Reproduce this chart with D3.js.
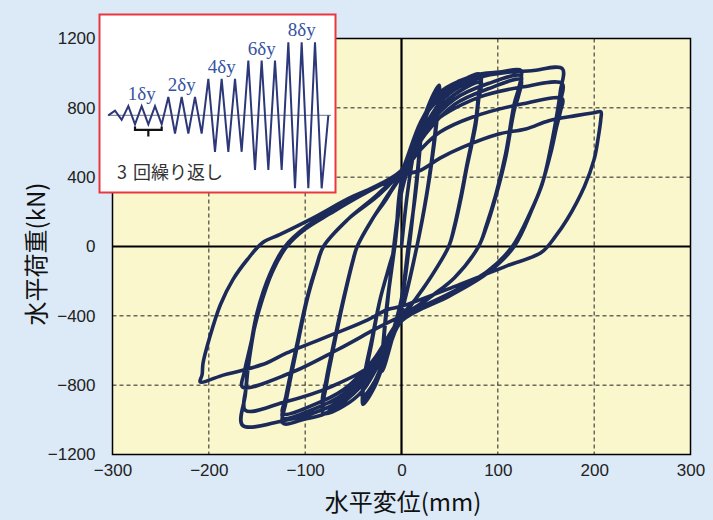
<!DOCTYPE html>
<html>
<head>
<meta charset="utf-8">
<script src="https://cdn.jsdelivr.net/npm/d3@7"></script>
<style>
  html, body { margin: 0; padding: 0; background: #dce9f6; }
  svg { display: block; }
</style>
</head>
<body>
<div id="wrapper"></div>
<script>
// axis ticks and grid
const xTicks = [-300, -200, -100, 0, 100, 200, 300]
const yTicks = [-1200, -800, -400, 0, 400, 800, 1200]
const xGrid = [-200, -100, 100, 200]
const yGrid = [-800, -400, 400, 800]

// hysteresis loops, [displacement mm, load kN]
const loop1dy = [
  [0, 0], [6, 300], [12, 520], [20, 720], [18, 520], [14, 300], [8, 0], [0, -320], [-10, -540], [-20, -720], [-18, -520], [-14, -300], [-8, 0], [0, 320],
  [10, 520], [20, 700], [18, 500], [14, 280], [7, 0], [0, -310], [-10, -520], [-20, -700], [-18, -500], [-14, -290], [-7, 0], [0, 310],
  [10, 510], [20, 690], [18, 490], [14, 280], [7, 0], [0, -300], [-10, -510], [-20, -690], [-18, -490], [-14, -280], [-7, 0], [0, 320],
]
const loop2dy = [
  [14, 560], [27, 800], [39, 930], [37, 770], [32, 530], [26, 300], [16, 0], [0, -380], [-14, -600], [-28, -810], [-40, -910], [-38, -760], [-31, -560], [-22, -300], [-12, -100], [-7, 0], [0, 370],
  [14, 540], [27, 780], [39, 905], [37, 750], [32, 520], [26, 290], [16, 0], [0, -370], [-14, -590], [-28, -790], [-40, -885], [-38, -740], [-31, -550], [-22, -300], [-12, -100], [-7, 0], [0, 370],
  [14, 530], [27, 770], [39, 885], [37, 740], [32, 510], [26, 290], [16, 0], [0, -370], [-14, -580], [-28, -780], [-40, -865], [-38, -730], [-31, -540], [-22, -300], [-12, -100], [-7, 0], [0, 380],
]
const loop4dy = [
  [20, 700], [40, 880], [60, 950], [82, 993], [80, 880], [77, 726], [68, 475], [62, 300], [55, 120], [49, 0], [30, -180], [15, -300], [0, -420], [-20, -640], [-40, -830], [-60, -920], [-81, -962], [-78, -800], [-71, -597], [-60, -307], [-50, -75], [-46, 0], [-30, 160], [-15, 290], [0, 420],
  [20, 650], [40, 830], [60, 920], [82, 965], [80, 860], [77, 710], [68, 465], [62, 290], [55, 115], [49, 0], [30, -180], [15, -300], [0, -410], [-20, -610], [-40, -790], [-60, -885], [-81, -930], [-78, -780], [-71, -585], [-60, -300], [-50, -70], [-46, 0], [-30, 160], [-15, 285], [0, 410],
  [20, 630], [40, 800], [60, 895], [82, 945], [80, 845], [77, 700], [68, 460], [62, 285], [55, 110], [49, 0], [30, -180], [15, -300], [0, -400], [-20, -590], [-40, -765], [-60, -860], [-81, -905], [-78, -765], [-71, -575], [-60, -295], [-50, -70], [-46, 0], [-30, 160], [-15, 280], [0, 430],
]
const loop6dy = [
  [20, 720], [40, 890], [60, 955], [82, 995], [104, 1008], [124, 1016], [122, 920], [117, 823], [108, 533], [98, 301], [88, 120], [80, 0], [55, -180], [28, -300], [0, -430], [-25, -680], [-50, -850], [-80, -965], [-100, -995], [-123, -1020], [-120, -900], [-109, -597], [-98, -307], [-88, -114], [-81, 0], [-55, 160], [-25, 300], [0, 440],
  [25, 680], [55, 850], [90, 940], [124, 985], [122, 900], [117, 800], [108, 520], [98, 295], [88, 115], [80, 0], [55, -180], [28, -300], [0, -420], [-30, -680], [-60, -850], [-92, -940], [-123, -990], [-120, -880], [-109, -585], [-98, -300], [-88, -110], [-81, 0], [-55, 160], [-25, 295], [0, 430],
  [25, 650], [55, 820], [90, 910], [124, 962], [122, 880], [117, 785], [108, 510], [98, 290], [88, 110], [80, 0], [55, -180], [28, -300], [0, -410], [-30, -660], [-60, -825], [-92, -915], [-123, -965], [-120, -865], [-109, -575], [-98, -295], [-88, -105], [-81, 0], [-55, 160], [-25, 290], [0, 440],
]
const loop8dy = [
  [25, 760], [50, 900], [80, 975], [110, 1005], [135, 1014], [167, 1026], [165, 900], [163, 820], [157, 630], [147, 380], [136, 220], [117, 0], [90, -150], [50, -285], [0, -430], [-30, -700], [-60, -880], [-92, -962], [-123, -1005], [-165, -1032], [-162, -850], [-159, -672], [-150, -383], [-136, -151], [-121, 0], [-100, 110], [-74, 200], [-40, 310], [0, 440],
  [30, 700], [80, 860], [125, 920], [167, 939], [165, 840], [162, 750], [156, 580], [146, 360], [135, 210], [116, 0], [90, -150], [50, -280], [0, -420], [-25, -655], [-74, -811], [-123, -900], [-162, -945], [-161, -800], [-158, -650], [-149, -375], [-135, -148], [-120, 0], [-100, 105], [-74, 195], [-40, 305], [0, 430],
  [20, 560], [40, 660], [74, 747], [126, 823], [167, 852], [165, 780], [161, 690], [155, 540], [145, 345], [134, 200], [115, 0], [90, -140], [50, -270], [0, -400], [-25, -470], [-67, -597], [-116, -731], [-165, -811], [-163, -720], [-158, -600], [-148, -370], [-134, -145], [-119, 0], [-100, 100], [-74, 190], [-40, 300], [0, 410],
]
const loop10dy = [
  [20, 440], [40, 510], [63, 572], [101, 649], [129, 678], [153, 726], [181, 755], [200, 772], [207, 777], [207, 740], [204, 620], [200, 504], [190, 348], [172, 157], [160, 60], [145, -35], [110, -110], [60, -220], [0, -345], [-15, -365], [-35, -423], [-68, -500], [-119, -614], [-140, -672], [-164, -713], [-185, -742], [-209, -781],
  [-207, -740], [-206, -672], [-199, -522], [-188, -336], [-175, -191], [-160, -75], [-144, 23], [-126, 70], [-90, 170], [-50, 290], [0, 400],
]

// loading protocol in the inset (amplitude per cycle, in δy)
const insetAmps = [0.5, 1, 1, 1, 2, 2, 2, 4, 4, 4, 6, 6, 6, 8, 8, 8]
const insetLabels = ['1δy', '2δy', '4δy', '6δy', '8δy']
const insetLabelAt = [2, 5, 8, 11, 14]

const width = 713
const height = 520
const plot = { left: 112.5, right: 690.5, top: 38.5, bottom: 454.5 }

const svg = d3.select('#wrapper')
  .append('svg')
    .attr('width', width)
    .attr('height', height)

svg.append('rect')
    .attr('width', width)
    .attr('height', height)
    .attr('fill', '#dce9f6')

const xScale = d3.scaleLinear()
  .domain([-300, 300])
  .range([plot.left, plot.right])
const yScale = d3.scaleLinear()
  .domain([-1200, 1200])
  .range([plot.bottom, plot.top])

svg.append('rect')
    .attr('x', plot.left)
    .attr('y', plot.top)
    .attr('width', plot.right - plot.left)
    .attr('height', plot.bottom - plot.top)
    .attr('fill', '#faf7cd')

// dashed grid
const grid = svg.append('g')
    .attr('stroke', '#222')
    .attr('stroke-width', 1)
    .attr('stroke-dasharray', '4,3')
grid.selectAll('.gx')
  .data(xGrid)
  .join('line')
    .attr('x1', d => xScale(d)).attr('x2', d => xScale(d))
    .attr('y1', plot.top).attr('y2', plot.bottom)
grid.selectAll('.gy')
  .data(yGrid)
  .join('line')
    .attr('class', 'gy')
    .attr('y1', d => yScale(d)).attr('y2', d => yScale(d))
    .attr('x1', plot.left).attr('x2', plot.right)

// zero lines
svg.append('line')
    .attr('x1', xScale(0)).attr('x2', xScale(0))
    .attr('y1', plot.top).attr('y2', plot.bottom)
    .attr('stroke', '#000').attr('stroke-width', 2.2)
svg.append('line')
    .attr('x1', plot.left).attr('x2', plot.right)
    .attr('y1', yScale(0)).attr('y2', yScale(0))
    .attr('stroke', '#000').attr('stroke-width', 2.2)

// hysteresis curve
const allPoints = [].concat(loop1dy, loop2dy, loop4dy, loop6dy, loop8dy, loop10dy)
const lineGen = d3.line()
  .x(d => xScale(d[0]))
  .y(d => yScale(d[1]))
  .curve(d3.curveCatmullRom.alpha(0.5))

svg.append('path')
    .attr('d', lineGen(allPoints))
    .attr('fill', 'none')
    .attr('stroke', '#1c2a5a')
    .attr('stroke-width', 3.6)
    .attr('stroke-linejoin', 'round')
    .attr('stroke-linecap', 'round')

svg.append('rect')
    .attr('x', plot.left)
    .attr('y', plot.top)
    .attr('width', plot.right - plot.left)
    .attr('height', plot.bottom - plot.top)
    .attr('fill', 'none')
    .attr('stroke', '#000')
    .attr('stroke-width', 1.5)

// axes
const tickFont = '"Liberation Sans", Arial, sans-serif'
const xAxis = svg.append('g')
    .attr('transform', `translate(0,${plot.bottom})`)
    .call(d3.axisBottom(xScale).tickValues(xTicks).tickFormat(d3.format('')).tickSize(0).tickPadding(9))
const yAxis = svg.append('g')
    .attr('transform', `translate(${plot.left},0)`)
    .call(d3.axisLeft(yScale).tickValues(yTicks).tickFormat(d3.format('')).tickSize(0).tickPadding(17))
;[xAxis, yAxis].forEach(ax => {
  ax.select('.domain').remove()
  ax.selectAll('text')
      .attr('fill', '#222')
      .style('font-family', tickFont)
      .style('font-size', '17px')
})

const cjkFont = '"Noto Sans CJK JP", "Noto Sans", sans-serif'
svg.append('text')
    .attr('transform', 'translate(37,254) rotate(-90)')
    .attr('text-anchor', 'middle')
    .attr('dy', '0.35em')
    .style('font-family', cjkFont)
    .style('font-size', '24px')
    .attr('fill', '#111')
    .text('水平荷重(kN)')
svg.append('text')
    .attr('x', 403)
    .attr('y', 511)
    .attr('text-anchor', 'middle')
    .style('font-family', cjkFont)
    .style('font-size', '24px')
    .attr('fill', '#111')
    .text('水平変位(mm)')

// inset: loading protocol
const inset = svg.append('g')
inset.append('rect')
    .attr('x', 99.5).attr('y', 14.5)
    .attr('width', 236).attr('height', 178)
    .attr('fill', '#fff')
    .attr('stroke', '#e8383d')
    .attr('stroke-width', 2)

const insetX = d3.scaleLinear().domain([0, 15]).range([115, 315])
const insetY = d3.scaleLinear().domain([-8, 8]).range([188.3, 42.3])

inset.append('line')
    .attr('x1', insetX(-0.55)).attr('x2', insetX(16.2))
    .attr('y1', insetY(0)).attr('y2', insetY(0))
    .attr('stroke', '#8a8f99')
    .attr('stroke-width', 1.2)

const wave = [[-0.5, 0]]
insetAmps.forEach((a, i) => {
  wave.push([i, a])
  wave.push([i + 0.5, -a])
})
wave.push([16, 0])

inset.append('path')
    .attr('d', d3.line().x(d => insetX(d[0])).y(d => insetY(d[1]))(wave))
    .attr('fill', 'none')
    .attr('stroke', '#2d3878')
    .attr('stroke-width', 2)
    .attr('stroke-linejoin', 'miter')

inset.selectAll('.lbl')
  .data(insetLabels)
  .join('text')
    .attr('x', (d, i) => insetX(insetLabelAt[i]))
    .attr('y', (d, i) => insetY(insetAmps[insetLabelAt[i]]) - 6)
    .attr('text-anchor', 'middle')
    .style('font-family', '"Liberation Serif", "Times New Roman", serif')
    .style('font-size', '19px')
    .attr('fill', '#3553a0')
    .text(d => d)

// bracket under the 1δy cycles
const bx0 = insetX(1.5), bx1 = insetX(3.5), bxm = insetX(2.5)
const by = insetY(-1) + 2
inset.append('path')
    .attr('d', `M${bx0},${by} V${by + 3.5} H${bx1} V${by} M${bxm},${by + 3.5} V${by + 10}`)
    .attr('fill', 'none')
    .attr('stroke', '#111')
    .attr('stroke-width', 2.2)

const note = inset.append('text')
    .attr('x', 117)
    .attr('y', 179)
    .style('font-family', cjkFont)
    .style('font-size', '18px')
    .attr('fill', '#333')
note.append('tspan').text('3')
note.append('tspan').attr('dx', 6).text('回繰り返し')
</script>
</body>
</html>
